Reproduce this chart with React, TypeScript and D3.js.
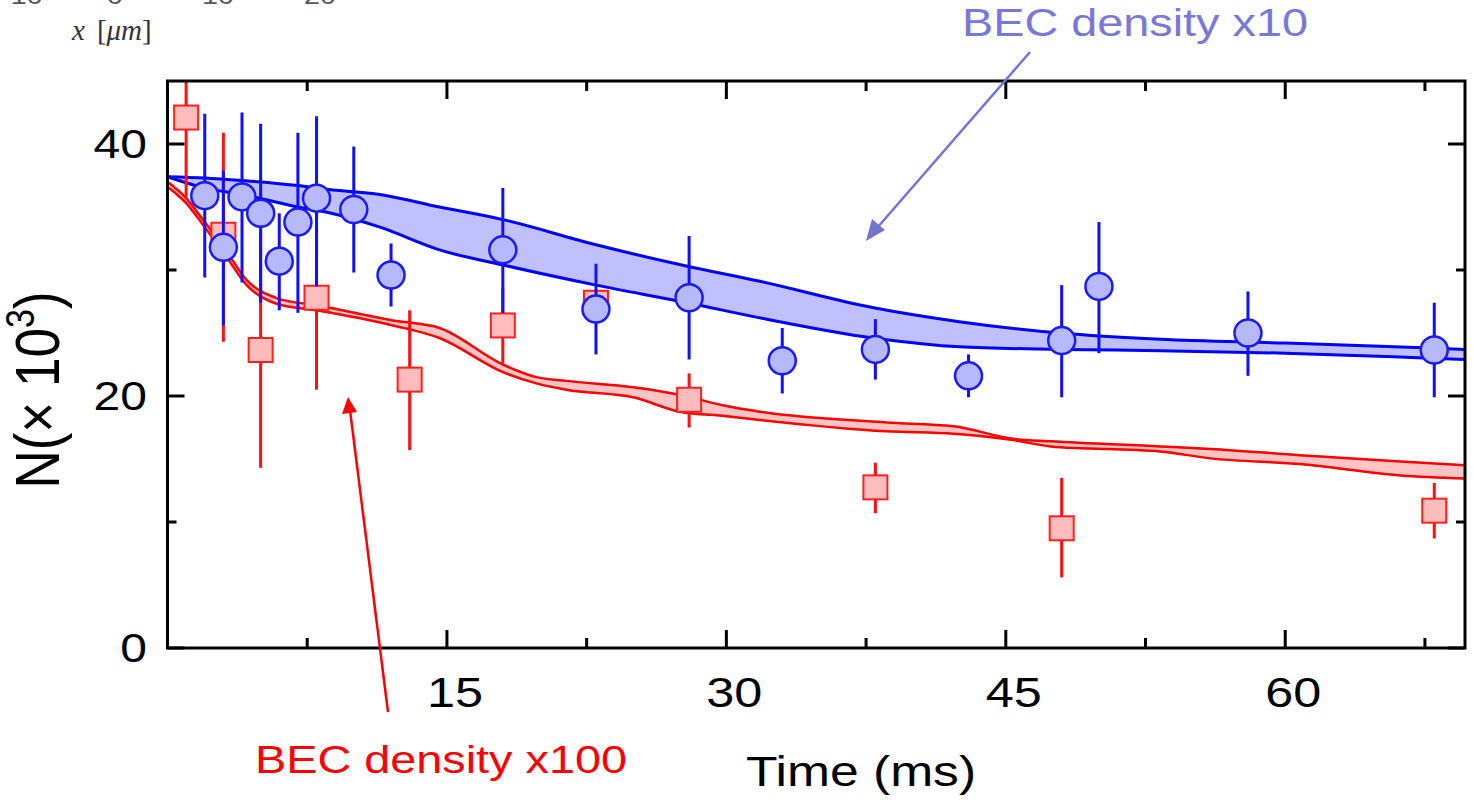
import React from "react";
import * as d3 from "d3";

// ---- data ----
const blueT = [2, 3, 4, 5, 6, 7, 8, 10, 12, 18, 23, 28, 33, 38, 43, 48, 50, 58, 68];
const blueN = [35.9, 31.8, 35.8, 34.5, 30.7, 33.8, 35.7, 34.8, 29.6, 31.6, 26.9, 27.8, 22.8, 23.7, 21.6, 24.4, 28.7, 25.0, 23.65];
const blueHi = [42.4, 37.9, 42.5, 41.6, 34.5, 40.9, 42.2, 39.8, 32.1, 36.5, 30.5, 32.7, 25.4, 26.1, 23.3, 28.8, 33.8, 28.3, 27.4];
const blueLo = [29.4, 25.6, 29.0, 27.4, 26.8, 26.6, 28.7, 29.8, 27.1, 26.6, 23.3, 22.9, 20.2, 21.3, 19.9, 19.9, 23.4, 21.6, 19.9];

const redT = [1, 3, 5, 8, 13, 18, 23, 28, 38, 48, 68];
const redN = [42.1, 32.8, 23.65, 27.8, 21.3, 25.6, 27.4, 19.7, 12.75, 9.5, 10.9];
const redHi = [48.6, 40.9, 33.0, 35.1, 26.8, 28.6, 28.4, 21.8, 14.7, 13.5, 13.1];
const redLo = [35.6, 24.3, 14.3, 20.5, 15.7, 22.6, 26.4, 17.5, 10.7, 5.6, 8.7];

const blueBandT = [0, 2, 4, 7, 8.5, 11.4, 14.6, 18, 23, 27.9, 31.8, 37.9, 42.5, 47.9, 53.3, 60, 67.8, 69.65];
const blueBandHi = [37.4, 37.3, 37.1, 36.7, 36.4, 36.0, 35.0, 34.0, 32.0, 30.3, 29.1, 27.0, 25.9, 25.0, 24.5, 24.2, 23.8, 23.7];
const blueBandLo = [37.4, 36.5, 36.0, 35.0, 34.6, 33.4, 31.6, 30.4, 28.8, 27.4, 26.2, 24.6, 23.9, 23.7, 23.6, 23.4, 23.0, 22.9];

const redBandT = [0, 1, 1.9, 3, 4.25, 5.9, 8, 12.1, 14.6, 18, 19.8, 21.4, 25, 27.5, 30, 31.8, 38.6, 42.2, 45.4, 47.4, 53.3, 56, 60.8, 66.2, 69.65];
const redBandHi = [37.0, 35.7, 34.0, 31.85, 29.2, 27.75, 27.2, 26.0, 25.4, 22.5, 21.5, 21.2, 20.7, 20.1, 19.2, 18.75, 17.9, 17.6, 16.6, 16.4, 16.0, 15.8, 15.3, 14.8, 14.5];
const redBandLo = [36.6, 35.3, 33.6, 31.4, 28.8, 27.3, 26.8, 25.6, 24.6, 21.9, 21.0, 20.5, 19.9, 18.75, 18.4, 18.1, 17.2, 17.0, 16.5, 16.0, 15.6, 15.05, 14.6, 13.7, 13.45];

const xMajor = [15, 30, 45, 60];
const xMinor = [7.5, 22.5, 37.5, 52.5, 67.5];
const yMajor = [0, 20, 40];
const yMinor = [10, 30];
const topLabels = ["-10", "0", "10", "20"];

// ---- layout ----
const W = 1474, H = 807;
const L = 167.5, R = 1465, T = 81, B = 648;
const SX = 1.2;

export default function App() {
  const x = d3.scaleLinear().domain([0, 69.65]).range([L, R]);
  const y = d3.scaleLinear().domain([0, 45]).range([B, T]);

  const band = (t: number[], hi: number[], lo: number[]) => {
    const pts = t.map((v, i) => ({ t: v, hi: hi[i], lo: lo[i] }));
    const area = d3.area<any>().x((d) => x(d.t)).y0((d) => y(d.lo)).y1((d) => y(d.hi)).curve(d3.curveMonotoneX);
    const lh = d3.line<any>().x((d) => x(d.t)).y((d) => y(d.hi)).curve(d3.curveMonotoneX);
    const ll = d3.line<any>().x((d) => x(d.t)).y((d) => y(d.lo)).curve(d3.curveMonotoneX);
    return { a: area(pts) || "", h: lh(pts) || "", l: ll(pts) || "" };
  };
  const bb = band(blueBandT, blueBandHi, blueBandLo);
  const rb = band(redBandT, redBandHi, redBandLo);

  const sText = (tx: number, ty: number, extra = "") => `translate(${tx},${ty}) ${extra} scale(${SX},1)`;

  return (
    <svg width={W} height={H} style={{ position: "absolute", left: 0, top: 0, display: "block", background: "#fff" }}
      fontFamily="'Liberation Sans', Arial, sans-serif">
      <defs>
        <clipPath id="plot">
          <rect x={L} y={T} width={R - L} height={B - T} />
        </clipPath>
      </defs>

      {/* clipped header of neighbouring figure */}
      {topLabels.map((s, i) => (
        <text key={s} transform={sText([22, 115, 218, 320][i], 4)} textAnchor="middle" fontSize={24} fill="#555">{s}</text>
      ))}
      <text x={72} y={40} fontFamily="'Liberation Serif', 'DejaVu Serif', serif" fontSize={29} fill="#333">
        <tspan fontStyle="italic">x</tspan>
        <tspan dx={12}>[</tspan>
        <tspan fontStyle="italic">μm</tspan>
        <tspan>]</tspan>
      </text>

      <g clipPath="url(#plot)">
        {/* bands */}
        <path d={rb.a} fill="#ffc4c4" stroke="none" />
        <path d={rb.h} fill="none" stroke="#ff0000" strokeWidth={2.5} />
        <path d={rb.l} fill="none" stroke="#ff0000" strokeWidth={2.5} />
        <path d={bb.a} fill="#c0c0ff" stroke="none" />
        <path d={bb.h} fill="none" stroke="#0000ff" strokeWidth={3} />
        <path d={bb.l} fill="none" stroke="#0000ff" strokeWidth={3} />

        {/* red points */}
        {redT.map((t, i) => (
          <g key={"r" + i}>
            <line x1={x(t)} x2={x(t)} y1={y(redHi[i])} y2={y(redLo[i])} stroke="#ff1010" strokeWidth={3} />
            <rect x={x(t) - 12} y={y(redN[i]) - 12} width={24} height={24} fill="#ffbcbc" stroke="#ff2020" strokeWidth={2} />
          </g>
        ))}
        {/* blue points */}
        {blueT.map((t, i) => (
          <g key={"b" + i}>
            <line x1={x(t)} x2={x(t)} y1={y(blueHi[i])} y2={y(blueLo[i])} stroke="#1010ff" strokeWidth={3} />
            <circle cx={x(t)} cy={y(blueN[i])} r={13.5} fill="#b6b9fb" stroke="#1a1aff" strokeWidth={2.5} />
          </g>
        ))}
      </g>

      {/* frame */}
      <rect x={L} y={T} width={R - L} height={B - T} fill="none" stroke="#000" strokeWidth={3} />
      {/* ticks */}
      {xMajor.map((v) => (
        <g key={"xM" + v}>
          <line x1={x(v)} x2={x(v)} y1={B} y2={B - 18} stroke="#000" strokeWidth={3} />
          <line x1={x(v)} x2={x(v)} y1={T} y2={T + 18} stroke="#000" strokeWidth={3} />
          <text transform={sText(x(v) + 8, 707)} textAnchor="middle" fontSize={42} fill="#000">{v}</text>
        </g>
      ))}
      {xMinor.map((v) => (
        <g key={"xm" + v}>
          <line x1={x(v)} x2={x(v)} y1={B} y2={B - 10} stroke="#000" strokeWidth={3} />
          <line x1={x(v)} x2={x(v)} y1={T} y2={T + 10} stroke="#000" strokeWidth={3} />
        </g>
      ))}
      {yMajor.map((v) => (
        <g key={"yM" + v}>
          <line x1={L} x2={L + 17} y1={y(v)} y2={y(v)} stroke="#000" strokeWidth={3} />
          <line x1={R} x2={R - 17} y1={y(v)} y2={y(v)} stroke="#000" strokeWidth={3} />
          <text transform={sText(147, y(v) + 14)} textAnchor="end" fontSize={40} fill="#000">{v}</text>
        </g>
      ))}
      {yMinor.map((v) => (
        <g key={"ym" + v}>
          <line x1={L} x2={L + 9} y1={y(v)} y2={y(v)} stroke="#000" strokeWidth={3} />
          <line x1={R} x2={R - 9} y1={y(v)} y2={y(v)} stroke="#000" strokeWidth={3} />
        </g>
      ))}

      {/* axis titles */}
      <text transform={sText(861, 786)} textAnchor="middle" fontSize={43} fill="#000">Time (ms)</text>
      <text transform={`translate(59,390) rotate(-90) scale(1,${SX})`} textAnchor="middle" fontSize={53} fill="#000">
        N(× 10<tspan dy={-21} fontSize={34}>3</tspan><tspan dy={21}>)</tspan>
      </text>

      {/* annotations */}
      <text transform={sText(1135, 36)} textAnchor="middle" fontSize={39} fill="#7878d8">BEC density x10</text>
      <line x1={1030} y1={52} x2={877} y2={228} stroke="#7373d1" strokeWidth={2.5} />
      <path d="M866,241 L872,219 L885,230 Z" fill="#7373d1" />
      <text transform={sText(441, 773)} textAnchor="middle" fontSize={39} fill="#ff0000">BEC density x100</text>
      <line x1={388} y1={712} x2={350} y2={410} stroke="#ff0000" strokeWidth={2.5} />
      <path d="M348,397 L342,414 L357,412 Z" fill="#ff0000" />
    </svg>
  );
}
